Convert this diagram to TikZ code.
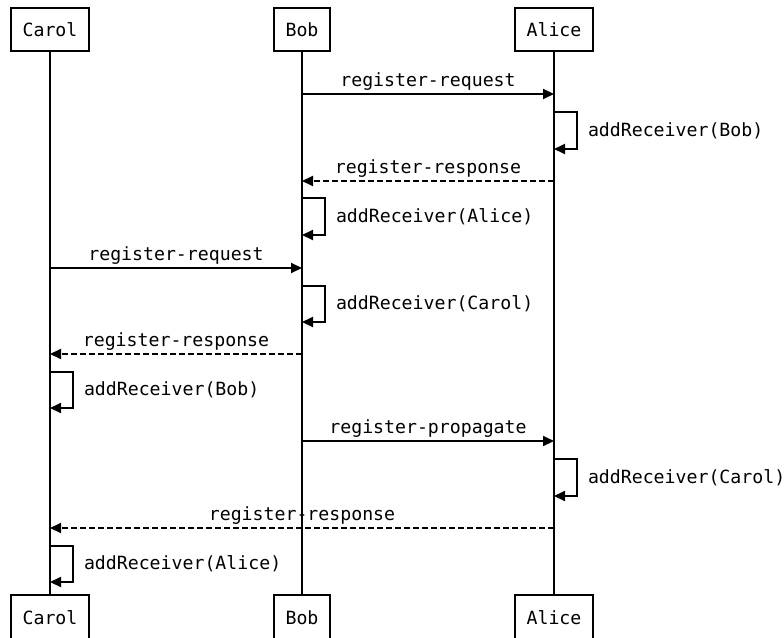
\documentclass[tikz,border=0pt]{standalone}
\usepackage{fontspec}
\setmonofont{DejaVu Sans Mono}
\usetikzlibrary{arrows.meta}
\tikzset{>={Triangle[length=11pt,width=10pt]}}

\begin{document}
\begin{tikzpicture}[x=1pt,y=-1pt,line width=2pt,
  font=\ttfamily\fontsize{18.2}{22}\selectfont,
  actor/.style={draw,inner xsep=11.5pt,inner ysep=0pt,minimum height=43pt},
  msg/.style={->},
  reply/.style={->,dash pattern=on 6pt off 3pt},
  lbl/.style={above,inner sep=3pt},
  note/.style={right,inner sep=0pt,xshift=10pt}]
  \useasboundingbox (0,0) rectangle (784,637);

  % Actors
  \node[actor] (CarolTop) at (50,29.5) {Carol};
  \node[actor] (BobTop) at (302,29.5) {Bob};
  \node[actor] (AliceTop) at (554,29.5) {Alice};
  \node[actor,minimum height=45pt] (CarolBot) at (50,617.5) {Carol};
  \node[actor,minimum height=45pt] (BobBot) at (302,617.5) {Bob};
  \node[actor,minimum height=45pt] (AliceBot) at (554,617.5) {Alice};

  % Lifelines
  \foreach \who in {Carol,Bob,Alice}
    \draw (\who Top) -- (\who Bot);

  % Bob registers with Alice
  \draw[msg] (BobTop |- 0,94) -- node[lbl] {register-request} (AliceTop |- 0,94);
  \draw[msg] (AliceTop |- 0,112) -- ++(23,0) -- node[note] {addReceiver(Bob)} ++(0,37) -- ++(-23,0);
  \draw[reply] (AliceTop |- 0,181) -- node[lbl] {register-response} (BobTop |- 0,181);
  \draw[msg] (BobTop |- 0,198) -- ++(23,0) -- node[note] {addReceiver(Alice)} ++(0,37) -- ++(-23,0);

  % Carol registers with Bob
  \draw[msg] (CarolTop |- 0,268) -- node[lbl] {register-request} (BobTop |- 0,268);
  \draw[msg] (BobTop |- 0,286) -- ++(23,0) -- node[note] {addReceiver(Carol)} ++(0,36) -- ++(-23,0);
  \draw[reply] (BobTop |- 0,354) -- node[lbl] {register-response} (CarolTop |- 0,354);
  \draw[msg] (CarolTop |- 0,372) -- ++(23,0) -- node[note] {addReceiver(Bob)} ++(0,36) -- ++(-23,0);

  % Bob propagates Carol to Alice
  \draw[msg] (BobTop |- 0,441) -- node[lbl] {register-propagate} (AliceTop |- 0,441);
  \draw[msg] (AliceTop |- 0,459) -- ++(23,0) -- node[note] {addReceiver(Carol)} ++(0,37) -- ++(-23,0);
  \draw[reply] (AliceTop |- 0,528) -- node[lbl] {register-response} (CarolTop |- 0,528);
  \draw[msg] (CarolTop |- 0,546) -- ++(23,0) -- node[note] {addReceiver(Alice)} ++(0,36) -- ++(-23,0);
\end{tikzpicture}
\end{document}
